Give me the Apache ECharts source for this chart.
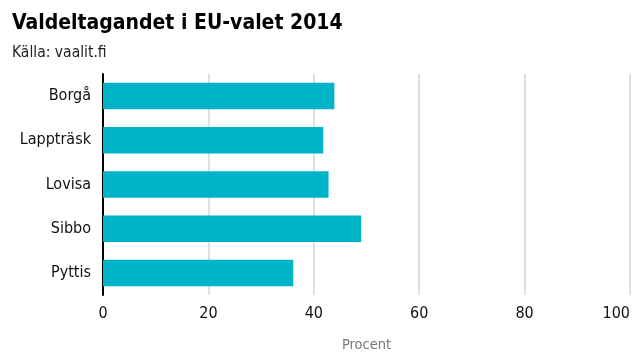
<!DOCTYPE html>
<html><head><meta charset="utf-8">
<script src="https://cdn.jsdelivr.net/npm/echarts@6/dist/echarts.min.js"></script>
<style>html,body{margin:0;padding:0;background:#fff}#c{width:640px;height:360px}</style>
</head><body><div id="c"></div>
<script>
const categories = ['Borgå', 'Lappträsk', 'Lovisa', 'Sibbo', 'Pyttis'];
const values = [43.9, 41.8, 42.8, 49.0, 36.1];
const xTicks = [0, 20, 40, 60, 80, 100];
const FONT = '"DejaVu Sans Condensed", "Liberation Sans Narrow", sans-serif';
const chart = echarts.init(document.getElementById('c'), null, {renderer: 'canvas'});
chart.setOption({
  animation: false,
  title: {
    text: 'Valdeltagandet i EU-valet 2014',
    subtext: 'Källa: vaalit.fi',
    left: 7, top: 8, itemGap: 11,
    textStyle: {fontFamily: FONT, fontSize: 21, fontWeight: 'bold', color: '#000'},
    subtextStyle: {fontFamily: FONT, fontSize: 15.5, color: '#222'}
  },
  grid: {left: 103, right: 10, top: 74, bottom: 65, outerBoundsMode: 'none', containLabel: false},
  xAxis: {
    type: 'value', min: 0, max: 100, interval: 20,
    name: 'Procent', nameLocation: 'middle', nameGap: 43,
    nameTextStyle: {fontFamily: FONT, fontSize: 14.5, color: '#777'},
    axisLine: {show: false}, axisTick: {show: false},
    axisLabel: {fontFamily: FONT, fontSize: 16, color: '#111', margin: 11,
      alignMaxLabel: 'right',
      formatter: v => xTicks.includes(v) ? String(v) : ''},
    splitLine: {lineStyle: {color: '#e0e0e0', width: 2}}
  },
  yAxis: {
    type: 'category', data: categories, inverse: true,
    axisLine: {lineStyle: {color: '#000', width: 2}},
    axisTick: {show: false},
    axisLabel: {fontFamily: FONT, fontSize: 16, color: '#111', margin: 12}
  },
  series: [{
    type: 'bar', data: values, barWidth: '60%',
    itemStyle: {color: '#00b4c8'}
  }]
});
</script></body></html>
